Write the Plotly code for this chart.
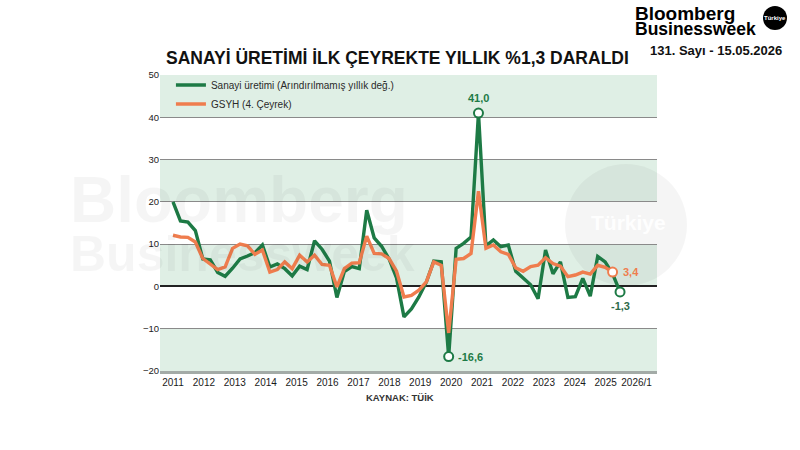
import plotly.graph_objects as go

# ---------------- data (quarterly, 2011Q1 ...) ----------------
start_year = 2011
sanayi = [20.0, 15.5, 15.2, 13.2, 6.5, 6.3, 3.3, 2.4,
          4.3, 6.5, 7.2, 8.0, 9.8, 4.6, 5.3, 4.2,
          2.5, 4.8, 4.0, 10.8, 8.8, 6.0, -2.6, 3.5,
          4.7, 4.2, 18.0, 11.5, 9.5, 6.5, 2.0, -7.2,
          -5.3, -2.5, 1.0, 6.0, 5.8, -16.6, 9.0, 10.2,
          11.7, 41.0, 9.6, 11.0, 9.4, 9.8, 3.6, 2.0,
          0.4, -2.9, 8.6, 3.0, 5.8, -2.6, -2.4, 1.9,
          -2.3, 7.1, 5.8, 3.0, -1.3]
gsyh = [12.1, 11.7, 11.6, 10.5, 6.6, 5.4, 4.0, 4.6,
        9.0, 10.0, 9.6, 7.6, 8.6, 3.4, 4.0, 5.8,
        4.2, 7.4, 5.8, 7.4, 5.2, 5.0, -0.1, 4.2,
        5.5, 5.6, 11.9, 7.8, 7.7, 6.6, 3.6, -2.5,
        -2.1, -0.9, 1.1, 5.8, 5.0, -11.0, 6.4, 6.6,
        7.8, 22.5, 9.0, 9.8, 8.2, 7.6, 4.4, 3.6,
        4.7, 5.0, 6.8, 5.4, 4.8, 2.3, 2.7, 3.4,
        2.9, 5.0, 4.5, 3.4]
x_labels = ["2011", "2012", "2013", "2014", "2015", "2016", "2017", "2018",
            "2019", "2020", "2021", "2022", "2023", "2024", "2025", "2026/1"]
y_ticks = [-20, -10, 0, 10, 20, 30, 40, 50]

GREEN = "#1d7a45"
ORANGE = "#ef7d4e"
BAND = "#dfefe5"
FONT = "Liberation Sans, Arial, sans-serif"

# plot-area geometry in pixels (for placing header/footer texts)
PL, PT, PW, PH = 160, 75, 497, 296


def px(xp):
    return (xp - PL) / PW


def py(yp):
    return 1 - (yp - PT) / PH


x_s = [start_year + i / 4 for i in range(len(sanayi))]
x_g = [start_year + i / 4 for i in range(len(gsyh))]

i_max = max(range(len(sanayi)), key=lambda i: sanayi[i])
i_min = min(range(len(sanayi)), key=lambda i: sanayi[i])

fig = go.Figure()
fig.add_trace(go.Scatter(x=x_s, y=sanayi, mode="lines",
                         line=dict(color=GREEN, width=3.4),
                         name="Sanayi üretimi (Arındırılmamış yıllık değ.)"))
fig.add_trace(go.Scatter(x=x_g, y=gsyh, mode="lines",
                         line=dict(color=ORANGE, width=3.4),
                         name="GSYH (4. Çeyrek)"))

# highlighted points
fig.add_trace(go.Scatter(x=[x_s[i_max], x_s[i_min], x_s[-1]],
                         y=[sanayi[i_max], sanayi[i_min], sanayi[-1]],
                         mode="markers", showlegend=False,
                         marker=dict(symbol="circle", size=9, color="white",
                                     line=dict(color=GREEN, width=2))))
fig.add_trace(go.Scatter(x=[x_g[-1]], y=[gsyh[-1]],
                         mode="markers", showlegend=False,
                         marker=dict(symbol="circle", size=9, color="white",
                                     line=dict(color=ORANGE, width=2))))


def fmt(v):
    return f"{v:.1f}".replace(".", ",")


fig.add_annotation(x=x_s[i_max], y=sanayi[i_max], text=f"<b>{fmt(sanayi[i_max])}</b>",
                   showarrow=False, yshift=15, xanchor="center", yanchor="middle",
                   font=dict(size=11, color=GREEN, family=FONT))
fig.add_annotation(x=x_s[i_min], y=sanayi[i_min], text=f"<b>{fmt(sanayi[i_min])}</b>",
                   showarrow=False, xanchor="left", yanchor="middle", xshift=7,
                   font=dict(size=11, color=GREEN, family=FONT))
fig.add_annotation(x=x_g[-1], y=gsyh[-1], text=f"<b>{fmt(gsyh[-1])}</b>",
                   showarrow=False, xanchor="left", yanchor="middle", xshift=8,
                   font=dict(size=11, color=ORANGE, family=FONT))
fig.add_annotation(x=x_s[-1], y=sanayi[-1], text=f"<b>{fmt(sanayi[-1])}</b>",
                   showarrow=False, yshift=-14, xanchor="center", yanchor="middle",
                   font=dict(size=11, color="#2d6b4a", family=FONT))

# background bands
for lo in [40, 20, 0, -20]:
    fig.add_shape(type="rect", xref="paper", yref="y", x0=0, x1=1, y0=lo, y1=lo + 10,
                  fillcolor=BAND, line_width=0, layer="below")

# watermark
fig.add_shape(type="circle", xref="paper", yref="paper",
              x0=px(565), x1=px(687), y0=py(286), y1=py(164),
              fillcolor="rgba(0,0,0,0.04)", line_width=0, layer="below")
fig.add_annotation(xref="paper", yref="paper", x=px(628), y=py(222),
                   xanchor="center", yanchor="middle",
                   text="<b>Türkiye</b>", showarrow=False,
                   font=dict(size=21, color="rgba(255,255,255,0.95)", family=FONT))
fig.add_annotation(xref="paper", yref="paper", x=px(68), y=py(200),
                   xanchor="left", yanchor="middle", text="<b>Bloomberg</b>", showarrow=False,
                   font=dict(size=64, color="rgba(0,0,0,0.04)", family=FONT))
fig.add_annotation(xref="paper", yref="paper", x=px(68), y=py(254),
                   xanchor="left", yanchor="middle", text="<b>Businessweek</b>", showarrow=False,
                   font=dict(size=50, color="rgba(0,0,0,0.04)", family=FONT))

# header / footer texts
fig.add_annotation(xref="paper", yref="paper", x=px(397), y=py(58),
                   xanchor="center", yanchor="middle",
                   text="<b>SANAYİ ÜRETİMİ İLK ÇEYREKTE YILLIK %1,3 DARALDI</b>",
                   showarrow=False, font=dict(size=17.5, color="#111", family=FONT))
fig.add_annotation(xref="paper", yref="paper", x=px(633), y=py(13),
                   xanchor="left", yanchor="middle", text="<b>Bloomberg</b>", showarrow=False,
                   font=dict(size=19, color="#000", family=FONT))
fig.add_annotation(xref="paper", yref="paper", x=px(633), y=py(29),
                   xanchor="left", yanchor="middle", text="<b>Businessweek</b>", showarrow=False,
                   font=dict(size=17.5, color="#000", family=FONT))
fig.add_shape(type="circle", xref="paper", yref="paper",
              x0=px(763), x1=px(787), y0=py(30), y1=py(6),
              fillcolor="#000", line_width=0)
fig.add_annotation(xref="paper", yref="paper", x=px(775), y=py(18),
                   xanchor="center", yanchor="middle",
                   text="<b>Türkiye</b>", showarrow=False,
                   font=dict(size=6, color="#fff", family=FONT))
fig.add_annotation(xref="paper", yref="paper", x=px(716), y=py(50),
                   xanchor="center", yanchor="middle",
                   text="<b>131. Sayı - 15.05.2026</b>", showarrow=False,
                   font=dict(size=13, color="#111", family=FONT))
fig.add_annotation(xref="paper", yref="paper", x=px(400), y=py(397),
                   xanchor="center", yanchor="middle",
                   text="<b>KAYNAK: TÜİK</b>", showarrow=False,
                   font=dict(size=9.5, color="#333", family=FONT))

label_pos = [start_year + k * 1.037 for k in range(len(x_labels))]

fig.update_layout(
    width=800, height=450,
    margin=dict(l=PL, r=800 - PL - PW, t=PT, b=450 - PT - PH),
    paper_bgcolor="white", plot_bgcolor="white",
    font=dict(family=FONT, color="#222"),
    legend=dict(x=0.022, y=1.015, xanchor="left", yanchor="top",
                bgcolor="rgba(0,0,0,0)", font=dict(size=10, color="#2a2a2a", family=FONT),
                tracegroupgap=0, itemwidth=30),
    xaxis=dict(range=[2010.564, 2027.24], tickmode="array", tickvals=label_pos,
               ticktext=x_labels, showgrid=False, zeroline=False, showline=True,
               linecolor="#a3aba7", linewidth=3, ticks="",
               tickfont=dict(size=10, color="#1a1a1a", family=FONT)),
    yaxis=dict(range=[-20, 50], tickmode="array", tickvals=y_ticks,
               showgrid=True, gridcolor="#8a8a8a", gridwidth=1,
               zeroline=True, zerolinecolor="#222", zerolinewidth=1.6,
               showline=False, ticks="",
               tickfont=dict(size=9.5, color="#222", family=FONT)),
)

fig.write_html("out.html")
